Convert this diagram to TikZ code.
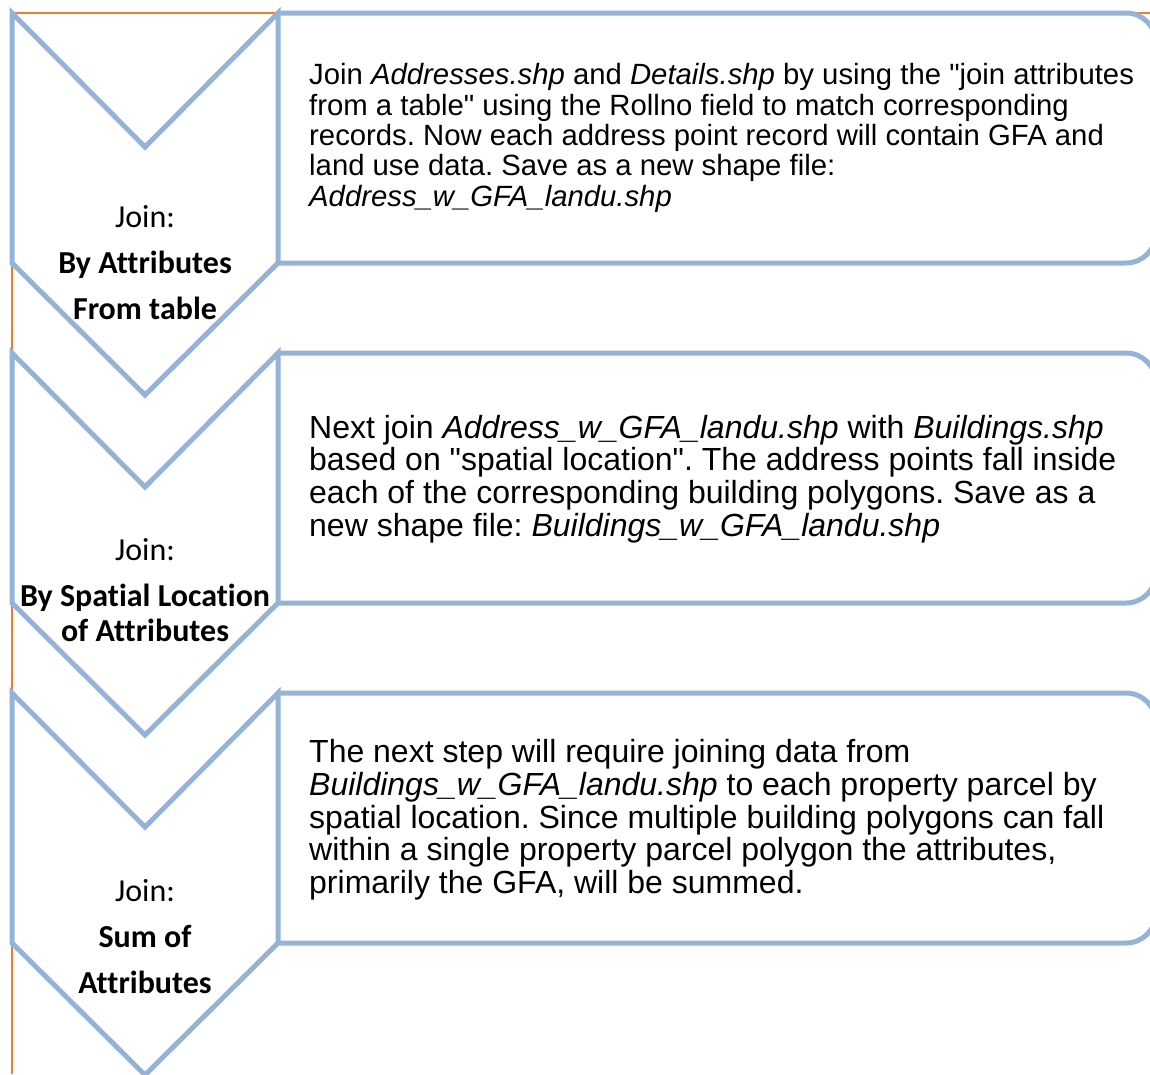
\documentclass[tikz,border=0pt]{standalone}
\usepackage{fontspec}
\setmainfont{Liberation Sans}
\newfontfamily\chevfont{Carlito}[Ligatures=NoCommon]
\definecolor{chevblue}{RGB}{149,179,215}
\definecolor{edgeorange}{RGB}{237,125,49}
\frenchspacing
\tikzset{
  chevron/.style={draw=chevblue, line width=5pt, line join=miter},
  stepbox/.style={draw=chevblue, line width=5pt, rounded corners=30pt},
  chevtext/.style={font=\chevfont\fontsize{32}{35}\selectfont, align=center, inner sep=0pt},
  steptext/.style={font=\fontsize{32}{32.7}\selectfont, align=left, anchor=west, inner sep=0pt}
}
\begin{document}
\begin{tikzpicture}[x=1pt, y=-1pt]
  \useasboundingbox (0,0) rectangle (1150,1074);
  \begin{scope}
    \clip (0,0) rectangle (1150,1074);
    \draw[edgeorange, line width=2pt] (1150,13) -- (12,13) -- (12,1074);
    \foreach \y in {0,340,680} {
      \draw[stepbox] (278,13+\y) -- (1156,13+\y) -- (1156,263+\y) -- (278,263+\y);
      \draw[chevron] (12,13+\y) -- (145,147+\y) -- (278,13+\y) -- (278,263+\y)
        -- (145,395+\y) -- (12,263+\y) -- cycle;
    }
  \end{scope}
  \node[chevtext] (join1) at (145,263) {Join:\\[11pt]\textbf{By Attributes}\\[11pt]\textbf{From table}};
  \node[chevtext] (join2) at (145,590) {Join:\\[11pt]\textbf{By Spatial Location}\\\textbf{of Attributes}};
  \node[chevtext] (join3) at (145,937) {Join:\\[11pt]\textbf{Sum of}\\[11pt]\textbf{Attributes}};
  \node[steptext, font=\fontsize{29.3}{30.3}\selectfont] (desc1) at (309,138)
    {Join \textit{Addresses.shp} and \textit{Details.shp} by using the \textquotedbl join attributes\\
     from a table\textquotedbl{} using the Rollno field to match corresponding\\
     records. Now each address point record will contain GFA and\\
     land use data. Save as a new shape file:\\
     \textit{Address\_w\_GFA\_landu.shp}};
  \node[steptext] (desc2) at (309,479)
    {Next join \textit{Address\_w\_GFA\_landu.shp} with \textit{Buildings.shp}\\
     based on \textquotedbl spatial location\textquotedbl. The address points fall inside\\
     each of the corresponding building polygons. Save as a\\
     new shape file: \textit{Buildings\_w\_GFA\_landu.shp}};
  \node[steptext] (desc3) at (309,820)
    {The next step will require joining data from\\
     \textit{Buildings\_w\_GFA\_landu.shp} to each property parcel by\\
     spatial location. Since multiple building polygons can fall\\
     within a single property parcel polygon the attributes,\\
     primarily the GFA, will be summed.};
\end{tikzpicture}
\end{document}
